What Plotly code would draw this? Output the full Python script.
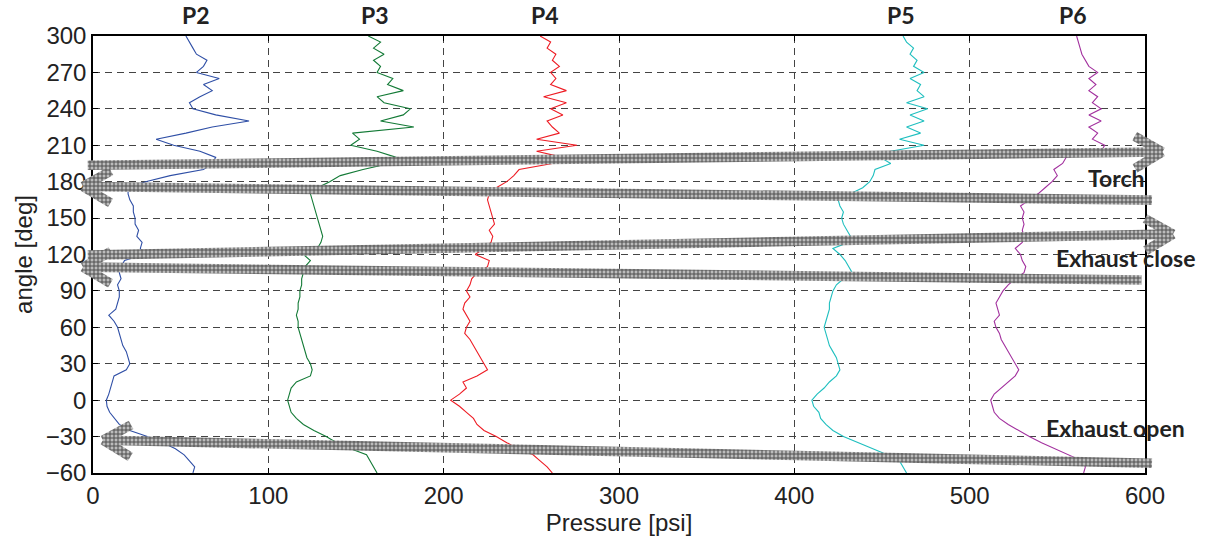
import math
import plotly.graph_objects as go

# ---------------- data ----------------
angles = [-60, -55, -50, -45, -40, -35, -30, -25, -20, -15, -10, -5, 0, 5, 10, 15, 20, 25, 30, 35,
          40, 45, 50, 55, 60, 65, 70, 75, 80, 85, 90, 95, 100, 105, 110, 115, 120, 125, 130, 135,
          140, 145, 150, 155, 160, 165, 170, 175, 180, 185, 190, 195, 200, 205, 210, 215, 220, 225,
          230, 235, 240, 245, 250, 255, 260, 265, 270, 275, 280, 285, 290, 295, 300]

p2 = [57, 58, 55, 52, 47, 40, 31, 21, 15, 12, 9.5, 8, 7.6, 9, 10, 11, 12, 19, 21, 20,
      19, 17, 16, 15, 14, 12, 9, 13, 14, 15, 15, 14, 16, 15, 16, 18, 29, 27, 28, 25,
      26, 24, 24, 23, 23, 21, 20, 20, 30, 44, 63, 68, 70, 61, 46, 36, 53, 68,
      89, 70, 57, 55, 61, 68, 63, 72, 59, 63, 65, 59, 57, 55, 53]

p3 = [162, 160, 158, 156, 147, 139, 133, 126, 120, 116, 113, 112, 111, 112, 113, 116, 124, 125, 124, 122,
      121, 120, 119, 118, 117, 117, 116, 117, 117, 118, 118, 119, 119, 120, 121, 124, 120, 128, 130, 131,
      130, 129, 128, 127, 126, 125, 124, 128, 135, 141, 154, 169, 173, 162, 147, 152, 148, 183,
      164, 177, 181, 166, 162, 177, 168, 171, 162, 164, 160, 166, 160, 164, 157]

p4 = [262, 259, 255, 251, 243, 236, 230, 223, 219, 217, 213, 209, 204, 209, 213, 211, 219, 225, 223, 221,
      219, 217, 215, 212, 213, 215, 213, 211, 212, 215, 213, 215, 216, 219, 225, 226, 218, 223, 227, 228,
      226, 229, 228, 227, 226, 225, 226, 230, 236, 240, 243, 262, 268, 253, 276, 253, 266, 262,
      259, 268, 261, 270, 257, 270, 261, 264, 261, 266, 262, 264, 259, 261, 255]

p5 = [464, 462, 460, 453, 445, 436, 428, 422, 418, 415, 414, 411, 410, 413, 417, 420, 424, 426, 425, 424,
      422, 420, 419, 418, 417, 418, 419, 420, 420, 421, 422, 424, 428, 433, 431, 429, 426, 422, 431, 432,
      430, 428, 427, 428, 426, 425, 432, 439, 443, 445, 446, 455, 449, 455, 474, 460, 472, 464,
      474, 466, 476, 464, 474, 470, 472, 466, 474, 468, 470, 466, 468, 464, 462]

p6 = [565, 566, 564, 556, 549, 541, 534, 528, 522, 517, 514, 513, 512, 514, 518, 522, 526, 528, 526, 524,
      522, 520, 518, 517, 515, 514, 517, 516, 515, 517, 519, 522, 526, 531, 532, 530, 529, 526, 530, 531,
      530, 531, 530, 531, 529, 534, 539, 543, 547, 550, 548, 553, 555, 575, 577, 570, 573, 568,
      575, 568, 575, 570, 573, 568, 572, 568, 573, 568, 566, 564, 563, 562, 561]

series_names = ["P2", "P3", "P4", "P5", "P6"]
series_values = [p2, p3, p4, p5, p6]
series_colors = ["#2f4fa6", "#137a36", "#ee1c24", "#1fbfbf", "#a2309e"]
label_x = [59, 161, 258, 461, 559]
label_y = 317

# arrows: (tail_x, tail_y, tip_x, tip_y) in data units
arrow_tail_x = [-3, 604, -3, 598, 604]
arrow_tail_y = [193.5, 164.8, 119.5, 99, -52]
arrow_tip_x = [610, -5.7, 616, -5.7, 5.7]
arrow_tip_y = [204.5, 176, 136.8, 109.6, -33]

event_texts = ["Torch", "Exhaust close", "Exhaust open"]
event_x = [584, 589, 583]
event_y = [183, 117, -23]

# ---------------- geometry helpers ----------------
W, H = 1208, 542
X0, X1 = 93, 1145
Y0, Y1 = 473, 36
XMIN, XMAX = 0, 600
YMIN, YMAX = -60, 300
sx = (X1 - X0) / (XMAX - XMIN)
sy = (Y0 - Y1) / (YMAX - YMIN)


def to_px(x, y):
    return X0 + (x - XMIN) * sx, Y0 - (y - YMIN) * sy


def to_data(px, py):
    return XMIN + (px - X0) / sx, YMIN + (Y0 - py) / sy


def band(ax_, ay_, bx_, by_, half):
    dx, dy = bx_ - ax_, by_ - ay_
    L = math.hypot(dx, dy)
    nx, ny = -dy / L * half, dx / L * half
    pts = [(ax_ + nx, ay_ + ny), (bx_ + nx, by_ + ny), (bx_ - nx, by_ - ny), (ax_ - nx, ay_ - ny), (ax_ + nx, ay_ + ny)]
    xs, ys = [], []
    for p in pts:
        d = to_data(*p)
        xs.append(d[0])
        ys.append(d[1])
    return xs, ys


fig = go.Figure()

for name, vals, col in zip(series_names, series_values, series_colors):
    fig.add_trace(go.Scatter(x=vals, y=angles, mode="lines", line=dict(color=col, width=1.1),
                             name=name, showlegend=False, xaxis="x", yaxis="y"))

half = 4.8
barb_len = 32
barb_ang = math.radians(30)
for tx, ty, hx, hy in zip(arrow_tail_x, arrow_tail_y, arrow_tip_x, arrow_tip_y):
    apx, apy = to_px(tx, ty)
    bpx, bpy = to_px(hx, hy)
    dx, dy = apx - bpx, apy - bpy
    L = math.hypot(dx, dy)
    ux, uy = dx / L, dy / L
    polys = [band(apx, apy, bpx + ux * 3, bpy + uy * 3, half)]
    for s in (1, -1):
        c, sn = math.cos(s * barb_ang), math.sin(s * barb_ang)
        rx, ry = ux * c - uy * sn, ux * sn + uy * c
        polys.append(band(bpx, bpy, bpx + rx * barb_len, bpy + ry * barb_len, half))
    for xs, ys in polys:
        fig.add_trace(go.Scatter(x=xs, y=ys, mode="lines", fill="toself", line=dict(width=0, color="rgba(0,0,0,0)"),
                                 fillcolor="#b0b0b0",
                                 fillpattern=dict(shape="+", size=4, solidity=0.45, fgcolor="#505050",
                                                  bgcolor="#bcbcbc", fillmode="replace"),
                                 hoverinfo="skip", showlegend=False, xaxis="x2", yaxis="y2"))

annotations = []
for name, lx in zip(series_names, label_x):
    annotations.append(dict(x=lx, y=label_y, xref="x2", yref="y2", text="<b>%s</b>" % name, showarrow=False,
                            font=dict(family="Lato", size=23, color="#222222")))
for t, ex, ey in zip(event_texts, event_x, event_y):
    annotations.append(dict(x=ex, y=ey, xref="x2", yref="y2", text="<b>%s</b>" % t, showarrow=False,
                            font=dict(family="Lato", size=23, color="#222222")))

tick_font = dict(family="Liberation Sans, Arial", size=24, color="#222222")
ax_common = dict(showline=True, linecolor="black", linewidth=1.5, mirror="ticks", ticks="inside",
                 ticklen=5, tickcolor="black", showgrid=True, gridcolor="#444444", gridwidth=1,
                 griddash="7px,5px", zeroline=False, tickfont=tick_font, automargin=False)

fig.update_layout(
    width=W, height=H, margin=dict(l=0, r=0, t=0, b=0),
    paper_bgcolor="white", plot_bgcolor="rgba(0,0,0,0)", template="none",
    xaxis=dict(domain=[X0 / W, X1 / W], range=[XMIN, XMAX], dtick=100, tick0=0,
               title=dict(text="Pressure [psi]", font=tick_font, standoff=4), anchor="y", **ax_common),
    yaxis=dict(domain=[1 - Y0 / H, 1 - Y1 / H], range=[YMIN, YMAX], dtick=30, tick0=0,
               title=dict(text="angle [deg]", font=tick_font, standoff=6), anchor="x", **ax_common),
    xaxis2=dict(domain=[0, 1], range=[to_data(0, 0)[0], to_data(W, 0)[0]], visible=False, anchor="y2",
                fixedrange=True),
    yaxis2=dict(domain=[0, 1], range=[to_data(0, H)[1], to_data(0, 0)[1]], visible=False, anchor="x2",
                fixedrange=True),
    annotations=annotations,
    showlegend=False,
)

fig.write_html("out.html")
